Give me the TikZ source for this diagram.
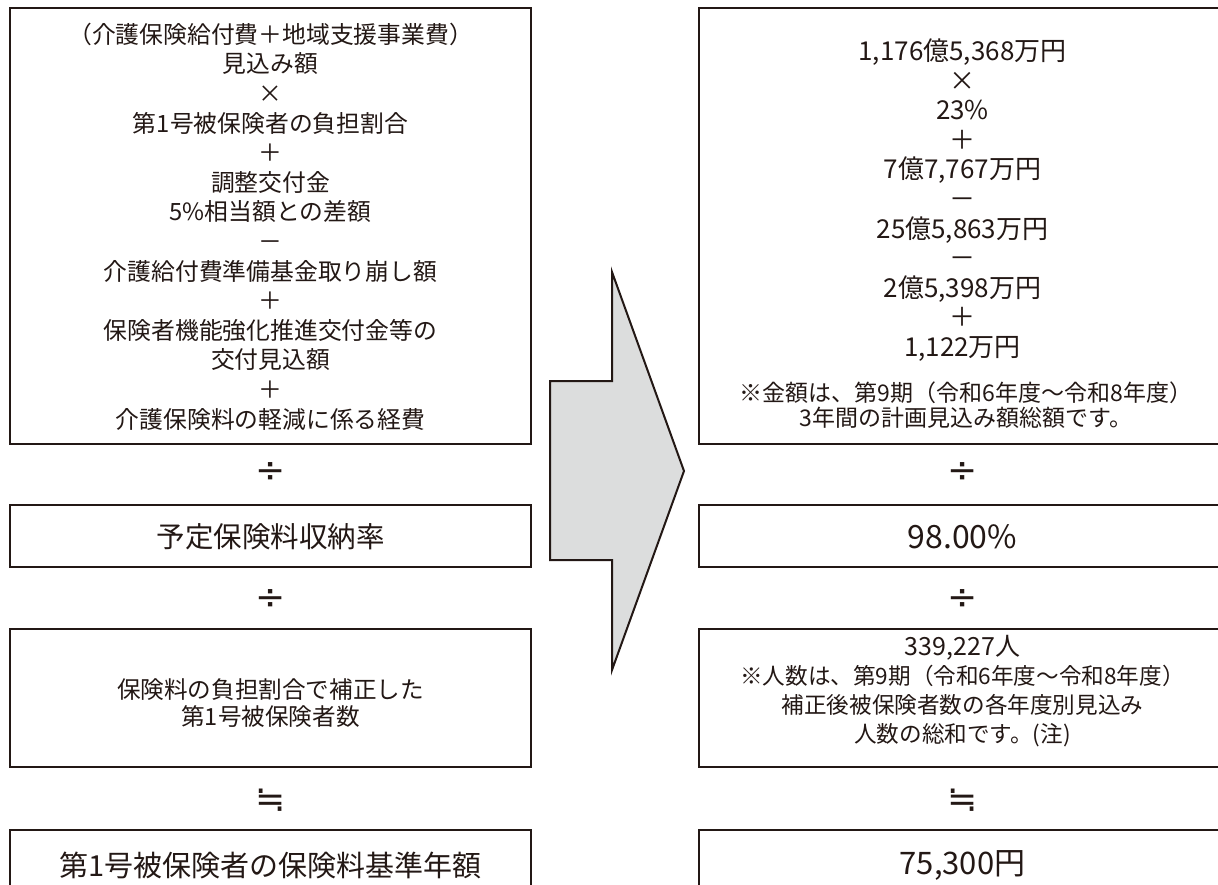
\documentclass[tikz,border=0pt]{standalone}
\usepackage{fontspec}
\setmainfont{Noto Sans CJK JP}
\newfontfamily\symfont{DejaVu Sans}
\definecolor{ink}{HTML}{231815}
\definecolor{fillgray}{HTML}{DCDDDD}
\newcommand{\fs}[2]{\fontsize{#1pt}{#2pt}\selectfont}
\tikzset{
  frame/.style={draw=ink, line width=2.2pt, fill=white, inner sep=0pt, rectangle},
  txt/.style={text=ink, align=center, inner sep=0pt},
  opsym/.style={text=ink, inner sep=0pt, font=\symfont\fs{36}{38}},
  bigarrow/.style={draw=ink, line width=2pt, fill=fillgray, line join=miter},
}
\begin{document}
\begin{tikzpicture}[x=1pt,y=-1pt]
\useasboundingbox (0,0) rectangle (1218,885);
% ---------- left column ----------
\node[frame, minimum width=521pt, minimum height=436pt] (L1) at (270.5,226) {};
\node[txt, font=\fs{23.8}{29.6}] (L1t) at (270.5,226.5) {（介護保険給付費＋地域支援事業費）\\見込み額\\×\\第1号被保険者の負担割合\\＋\\調整交付金\\5\%相当額との差額\\－\\介護給付費準備基金取り崩し額\\＋\\保険者機能強化推進交付金等の\\交付見込額\\＋\\介護保険料の軽減に係る経費};
\node[opsym] (d1L) at (270.5,473) {÷};
\node[frame, minimum width=521pt, minimum height=62pt] (L2) at (270.5,536) {};
\node[txt, font=\fs{28.5}{30}] (L2t) at (270.5,537) {予定保険料収納率};
\node[opsym] (d2L) at (270.5,600) {÷};
\node[frame, minimum width=521pt, minimum height=138pt] (L3) at (270.5,698) {};
\node[txt, font=\fs{23.6}{27}] (L3t) at (270.5,703.5) {保険料の負担割合で補正した\\第1号被保険者数};
\node[opsym] (eqL) at (270.5,800) {≒};
\node[frame, minimum width=521pt, minimum height=80pt] (L4) at (270.5,870) {};
\node[txt, font=\fs{29}{30}] (L4t) at (270.5,865) {第1号被保険者の保険料基準年額};
% ---------- right column ----------
\node[frame, minimum width=527pt, minimum height=436pt] (R1) at (962.5,226) {};
\node[txt, font=\fs{26}{29.6}] (R1t) at (962.5,200) {1,176億5,368万円\\×\\23\%\\＋\\7億7,767万円\\－\\25億5,863万円\\－\\2億5,398万円\\＋\\1,122万円};
\node[txt, font=\fs{23}{25}] (R1n) at (966,405.5) {※金額は、第9期（令和6年度～令和8年度）\\3年間の計画見込み額総額です。};
\node[opsym] (d1R) at (962.5,473) {÷};
\node[frame, minimum width=527pt, minimum height=62pt] (R2) at (962.5,536) {};
\node[txt, font=\fs{32}{34}] (R2t) at (962.5,537) {98.00\%};
\node[opsym] (d2R) at (962.5,600) {÷};
\node[frame, minimum width=527pt, minimum height=138pt] (R3) at (962.5,698) {};
\node[txt, font=\fs{22.6}{29}] (R3t) at (962.5,691.5) {{\fs{25}{29}339,227人}\\※人数は、第9期（令和6年度～令和8年度）\\補正後被保険者数の各年度別見込み\\人数の総和です。(注)};
\node[opsym] (eqR) at (962.5,800) {≒};
\node[frame, minimum width=527pt, minimum height=80pt] (R4) at (962.5,870) {};
\node[txt, font=\fs{31}{32}] (R4t) at (962.5,865) {75,300円};
% ---------- big arrow ----------
\draw[bigarrow] (550,381) -- (612,381) -- (612,272) -- (684,471) -- (612,670) -- (612,560) -- (550,560) -- cycle;
\end{tikzpicture}
\end{document}
